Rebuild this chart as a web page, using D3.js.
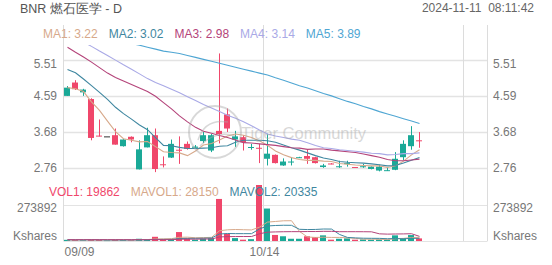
<!DOCTYPE html>
<html><head><meta charset="utf-8">
<script src="https://cdn.jsdelivr.net/npm/d3@7"></script>
<style>
html,body{margin:0;padding:0;background:#fff;}
svg{display:block;font-family:"Liberation Sans",Arial,sans-serif;}
</style></head><body>
<svg id="chart" width="552" height="265"></svg>
<script>
// ---------------- data ----------------
const dates = ["09/09","09/10","09/11","09/12","09/13","09/16","09/17","09/18","09/19","09/20",
  "09/23","09/24","09/25","09/26","09/27","09/30","10/01","10/02","10/03","10/04",
  "10/07","10/08","10/09","10/10","10/11","10/14","10/15","10/16","10/17","10/18",
  "10/21","10/22","10/23","10/24","10/25","10/28","10/29","10/30","10/31","11/01",
  "11/04","11/05","11/06","11/07","11/08"];
const futureDates = ["11/11","11/12","11/13","11/14","11/15","11/18","11/19","11/20"];
const gridDates = ["09/09","10/14","11/18"];
const tickLabels = ["09/09","10/14"];

const open  = [4.59,4.93,4.68,4.51,3.58,3.56,3.59,3.31,3.55,2.72,3.28,3.59,2.85,3.02,3.22,3.37,3.27,3.44,3.20,3.70,
  4.12,3.48,3.54,3.28,3.27,2.99,3.09,2.82,2.90,3.02,3.06,3.03,2.78,2.87,2.78,2.86,2.78,2.79,2.73,2.69,2.69,2.71,3.03,3.31,3.46];
const high  = [4.84,4.99,4.77,4.53,3.99,3.56,3.76,3.49,3.56,3.46,3.78,3.76,3.05,3.48,3.56,3.43,3.34,3.67,3.62,5.67,
  4.27,3.70,3.59,3.37,3.37,3.63,3.10,3.00,3.03,3.04,3.22,3.04,2.86,2.88,2.94,2.94,2.78,2.86,2.80,2.84,2.78,3.16,3.46,3.82,3.67];
const low   = [4.59,4.74,4.59,3.46,3.56,3.56,3.35,3.30,3.41,2.72,3.28,2.65,2.77,3.01,2.86,3.22,3.25,3.39,3.16,3.38,
  3.67,3.29,3.20,3.22,2.88,2.82,2.87,2.81,2.82,3.01,2.86,2.87,2.76,2.85,2.76,2.79,2.77,2.76,2.72,2.67,2.68,2.70,2.96,3.22,3.27];
const close = [4.80,4.76,4.75,3.52,3.57,3.56,3.35,3.48,3.48,3.23,3.59,2.73,2.83,3.37,3.20,3.24,3.30,3.59,3.59,3.62,
  3.76,3.56,3.41,3.29,3.25,3.12,2.88,2.92,2.92,3.03,2.99,2.88,2.82,2.86,2.80,2.88,2.77,2.80,2.79,2.79,2.70,2.99,3.37,3.59,3.44];

const ma1 = [4.80,4.77,4.70,4.44,4.22,3.95,3.68,3.50,3.46,3.42,3.43,3.30,3.17,3.15,3.14,3.07,3.19,3.34,3.38,3.47,
  3.57,3.62,3.59,3.53,3.45,3.33,3.19,3.09,3.02,2.97,2.95,2.95,2.93,2.92,2.87,2.85,2.83,2.82,2.81,2.81,2.77,2.81,2.93,3.09,3.22];
const ma2 = [5.26,5.18,5.02,4.85,4.68,4.50,4.30,4.14,4.00,3.85,3.73,3.53,3.33,3.32,3.28,3.25,3.25,3.26,3.27,3.31,
  3.32,3.41,3.46,3.46,3.46,3.45,3.41,3.34,3.27,3.21,3.14,3.07,3.01,2.97,2.92,2.90,2.89,2.88,2.86,2.84,2.81,2.82,2.88,2.95,3.02];
const ma3 = [5.83,5.70,5.58,5.45,5.31,5.17,5.06,4.97,4.88,4.79,4.70,4.58,4.42,4.26,4.08,3.93,3.79,3.69,3.64,3.58,
  3.53,3.47,3.40,3.39,3.37,3.35,3.33,3.30,3.27,3.26,3.23,3.24,3.24,3.21,3.19,3.17,3.15,3.11,3.07,3.03,2.97,2.94,2.94,2.96,2.98];
const ma4 = [6.20,6.08,5.96,5.85,5.73,5.62,5.50,5.38,5.27,5.15,5.03,4.93,4.85,4.76,4.67,4.57,4.47,4.37,4.28,4.19,
  4.10,4.02,3.93,3.83,3.72,3.62,3.57,3.53,3.49,3.46,3.40,3.33,3.27,3.25,3.22,3.20,3.18,3.16,3.13,3.12,3.09,3.10,3.12,3.12,3.14];
const ma5 = [6.30,6.25,6.20,6.15,6.10,6.05,6.00,5.96,5.92,5.88,5.83,5.78,5.73,5.70,5.67,5.62,5.57,5.52,5.47,5.42,
  5.37,5.32,5.27,5.22,5.17,5.12,5.05,4.99,4.92,4.85,4.79,4.72,4.65,4.59,4.52,4.45,4.39,4.32,4.26,4.19,4.13,4.07,4.01,3.95,3.89];
const maLabels = ["MA1: 3.22","MA2: 3.02","MA3: 2.98","MA4: 3.14","MA5: 3.89"];

const volume = [9000,7000,6000,12000,8000,5000,9000,7000,6000,17000,15000,32000,12000,14000,68000,20000,10000,18000,22000,320000,
  55000,22000,10000,14000,426000,247000,46000,36000,17000,17000,36000,30000,43000,10000,17000,20000,10000,12000,10000,12000,
  10000,43000,23000,45000,19862];
const mavol1 = [8000,8000,8000,8000,8400,7600,8000,8200,7000,8800,10800,15400,16400,18000,28200,29200,24800,26000,27600,78000,
  85000,87400,85800,84200,105400,143800,148600,153800,154400,72600,30400,27200,28600,27200,27200,24000,20000,13800,13800,12800,
  10800,17400,19600,26600,28150];
const mavol2 = [9000,9000,9000,9000,9000,8000,8000,8000,8000,8600,9200,11700,12300,12500,18500,20000,20100,21200,22800,53100,
  57100,56100,55900,55900,91700,114400,118000,119800,119300,89000,87100,87900,91200,90800,49900,27200,23600,21200,20500,20000,
  17400,18700,16700,20200,20335];
const mavol3 = [10000,10000,10000,10000,10000,10000,10000,10000,10000,10000,10000,10000,10000,10000,13000,14000,14000,15000,15000,30900,
  33200,33900,34100,34200,55100,67200,69100,70500,71100,71100,72100,72000,73600,73400,70800,70800,70800,70500,69900,54500,
  52300,53300,54000,55500,35200];
const volLabels = ["VOL1: 19862","MAVOL1: 28150","MAVOL2: 20335"];

const priceTicks = [5.51,4.59,3.68,2.76];
const volTicks = [273892, 0];
const volTickLabels = ["273892","Kshares"];

// ---------------- style ----------------
const UP = "#1aa997", DOWN = "#f0476b", FLAT = "#333";
const maColors = ["#d7a98b","#3f87a0","#b4447a","#a9a9e6","#4fa6d3"];
const volLegendColors = [DOWN, "#d7a98b", "#3f87a0"];
const mavolColors = ["#d7a98b","#3f87a0","#b4447a"];
const GRID = "#e3e3e3", BORDER = "#dcdcdc", TXT = "#777";

const svg = d3.select("#chart");
const L = 63.5, R = 487.5;
const allDates = dates.concat(futureDates);
const x = d3.scaleBand().domain(allDates).range([L, R]).padding(0);
const cx = d => x(d) + x.bandwidth() / 2;
const y = d3.scaleLinear().domain([2.45, 5.885]).range([180, 45]);
const yv = d3.scaleLinear().domain([0, 273892]).range([241, 205]);

const defs = svg.append("defs");
defs.append("clipPath").attr("id","mainClip").append("rect").attr("x",L).attr("y",45).attr("width",R-L).attr("height",135);
defs.append("clipPath").attr("id","volClip").append("rect").attr("x",L).attr("y",180).attr("width",R-L).attr("height",61.5);

// title + time
svg.append("text").attr("x",20).attr("y",12.5).attr("font-size",12.5).attr("fill","#555").text("BNR 燃石医学 - D");
svg.append("text").attr("x",534).attr("y",12).attr("font-size",12).attr("fill","#666")
  .attr("text-anchor","end").style("white-space","pre").text("2024-11-11  08:11:42");

// grid lines
const g = svg.append("g");
priceTicks.forEach(t => {
  const yy = Math.round(y(t)) + 0.5;
  g.append("line").attr("x1",L).attr("x2",R).attr("y1",yy).attr("y2",yy).attr("stroke",GRID).attr("stroke-width",1.5);
});
volTicks.forEach(t => {
  const yy = Math.round(yv(t)) + 0.5;
  g.append("line").attr("x1",L).attr("x2",R).attr("y1",yy).attr("y2",yy).attr("stroke",GRID).attr("stroke-width",1);
});
gridDates.forEach(d => {
  g.append("line").attr("x1",x(d)).attr("x2",x(d)).attr("y1",25).attr("y2",241).attr("stroke",BORDER).attr("stroke-width",1);
});
g.append("line").attr("x1",R).attr("x2",R).attr("y1",25).attr("y2",241).attr("stroke",BORDER).attr("stroke-width",1);

// price labels
priceTicks.forEach(t => {
  const yy = Math.max(y(t), 64);
  svg.append("text").attr("x",57).attr("y",yy).attr("dy","0.35em").attr("text-anchor","end")
    .attr("font-size",12).attr("fill",TXT).text(t.toFixed(2));
  svg.append("text").attr("x",493).attr("y",yy).attr("dy","0.35em")
    .attr("font-size",12).attr("fill",TXT).text(t.toFixed(2));
});
volTicks.forEach((t,i) => {
  const yy = Math.min(Math.max(yv(t), 208), 236);
  svg.append("text").attr("x",57).attr("y",yy).attr("dy","0.35em").attr("text-anchor","end")
    .attr("font-size",12).attr("fill",TXT).text(volTickLabels[i]);
  svg.append("text").attr("x",493).attr("y",yy).attr("dy","0.35em")
    .attr("font-size",12).attr("fill",TXT).text(volTickLabels[i]);
});
// date labels
tickLabels.forEach((d,i) => {
  svg.append("text").attr("x", i === 0 ? x(d) + 1 : x(d) + 1).attr("y",256)
    .attr("text-anchor", i === 0 ? "start" : "middle")
    .attr("font-size",12).attr("fill",TXT).text(d);
});

// volume bars
const colorOf = i => close[i] > open[i] ? UP : (close[i] < open[i] ? DOWN : UP);
const vg = svg.append("g").attr("clip-path","url(#volClip)");
vg.selectAll("rect").data(volume).join("rect")
  .attr("x",(d,i)=>cx(dates[i]) - 3.5).attr("width",6)
  .attr("y",d=>yv(d)).attr("height",d=>Math.max(0.8, 241 - yv(d)))
  .attr("fill",(d,i)=>colorOf(i));
[mavol1, mavol2, mavol3].forEach((arr,k) => {
  vg.append("path").datum(arr)
    .attr("d", d3.line().x((d,i)=>cx(dates[i])).y(d=>yv(d)))
    .attr("fill","none").attr("stroke",mavolColors[k]).attr("stroke-width",1);
});

// candles
const cg = svg.append("g").attr("clip-path","url(#mainClip)");
const candleColor = i => close[i] > open[i] ? UP : (close[i] < open[i] ? DOWN : FLAT);
dates.forEach((d,i) => {
  const c = candleColor(i);
  const xc = cx(d);
  cg.append("line").attr("x1",xc).attr("x2",xc).attr("y1",y(high[i])).attr("y2",y(low[i]))
    .attr("stroke",c).attr("stroke-width",1);
  const top = y(Math.max(open[i],close[i])), bot = y(Math.min(open[i],close[i]));
  cg.append("rect").attr("x",xc-3.5).attr("width",6).attr("y",top).attr("height",Math.max(1,bot-top)).attr("fill",c);
});

// MA lines
[ma1,ma2,ma3,ma4,ma5].forEach((arr,k) => {
  cg.append("path").datum(arr)
    .attr("d", d3.line().x((d,i)=>cx(dates[i])).y(d=>y(d)))
    .attr("fill","none").attr("stroke",maColors[k]).attr("stroke-width",1.1);
});

// watermark
const wm = svg.append("g").attr("opacity",0.45);
wm.append("circle").attr("cx",215).attr("cy",132).attr("r",26).attr("fill","none").attr("stroke","#aaa").attr("stroke-width",2);
wm.append("path").attr("d","M198,140 Q205,118 228,122 M200,146 Q215,130 235,136").attr("fill","none").attr("stroke","#aaa").attr("stroke-width",1.5);
wm.append("text").attr("x",241).attr("y",139).attr("font-size",16.5).attr("fill","#aaa").text("Tiger Community");

// legends
function legend(labels, colors, x0, yb, gap) {
  let xx = x0;
  labels.forEach((t,i) => {
    const tx = svg.append("text").attr("x",xx).attr("y",yb).attr("font-size",12).attr("fill",colors[i]).text(t);
    xx += tx.node().getComputedTextLength() + gap;
  });
}
legend(maLabels, maColors, 43, 38.3, 11);
legend(volLabels, volLegendColors, 49, 195.5, 11);
</script>
</body></html>
